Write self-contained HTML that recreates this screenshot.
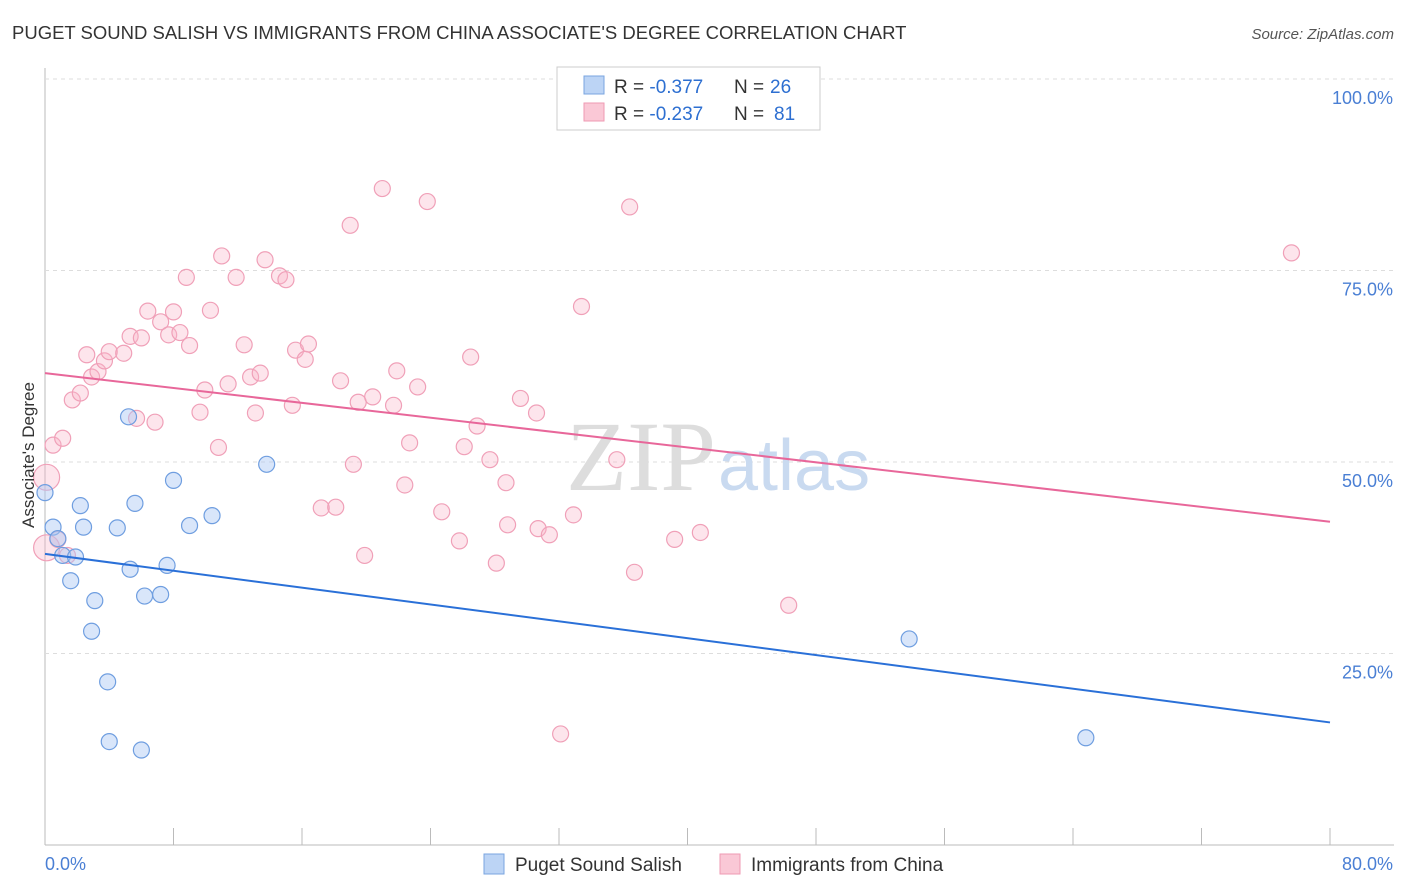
<!DOCTYPE html>
<html><head><meta charset="utf-8"><style>
body{margin:0;background:#fff;font-family:"Liberation Sans",sans-serif;}
svg{display:block}
</style></head><body>
<svg id="c" width="1406" height="892" viewBox="0 0 1406 892">
<text x="12" y="39" font-size="18.5" fill="#333">PUGET SOUND SALISH VS IMMIGRANTS FROM CHINA ASSOCIATE'S DEGREE CORRELATION CHART</text>
<text x="1394" y="39" font-size="15" fill="#555" font-style="italic" text-anchor="end">Source: ZipAtlas.com</text>
<g id="grid"></g>
<text x="716" y="490" font-size="100" font-family="Liberation Serif,serif" fill="#ddd" text-anchor="end">ZIP</text>
<text x="718" y="490" font-size="72" fill="#c9daf0">atlas</text>
<g id="marks"></g>
<text x="34" y="455" font-size="17" fill="#333" text-anchor="middle" transform="rotate(-90 34 455)">Associate's Degree</text>
<g>
<rect x="557" y="67" width="263" height="63" fill="#fff" stroke="#ccc"/>
<rect x="584" y="76" width="20" height="18" fill="#bcd4f5" stroke="#7aa5e0"/>
<rect x="584" y="103" width="20" height="18" fill="#fac8d6" stroke="#ef9ab3"/>
<text x="614" y="93" font-size="19" fill="#333">R = <tspan fill="#2d6fd1">-0.377</tspan></text>
<text x="734" y="93" font-size="19" fill="#333">N =</text>
<text x="770" y="93" font-size="19" fill="#2d6fd1">26</text>
<text x="614" y="120" font-size="19" fill="#333">R = <tspan fill="#2d6fd1">-0.237</tspan></text>
<text x="734" y="120" font-size="19" fill="#333">N =</text>
<text x="774" y="120" font-size="19" fill="#2d6fd1">81</text>
</g>
<g>
<rect x="484" y="854" width="20" height="20" fill="#bcd4f5" stroke="#7aa5e0"/>
<text x="515" y="871" font-size="19" fill="#333">Puget Sound Salish</text>
<rect x="720" y="854" width="20" height="20" fill="#fac8d6" stroke="#ef9ab3"/>
<text x="751" y="871" font-size="19" fill="#333">Immigrants from China</text>
</g>
</svg>
<script>
const xTicks=[0,10,20,30,40,50,60,70,80];
const yTicks=[25,50,75,100];
const blueX=[0,0.5,0.8,1.1,1.6,1.9,2.2,2.4,3.1,2.9,3.9,4.0,4.5,5.2,5.3,5.6,6.0,6.2,7.2,7.6,8.0,9.0,10.4,13.8,53.8,64.8];
const blueY=[46,41.5,40,37.8,34.5,37.6,44.3,41.5,31.9,27.9,21.3,13.5,41.4,55.9,36,44.6,12.4,32.5,32.7,36.5,47.6,41.7,43,49.7,26.9,14];
const pinkX=[0.1,0.1,0.5,0.8,1.1,1.4,1.7,2.2,2.6,2.9,3.3,3.7,4.0,4.9,5.3,5.7,6.0,6.4,6.85,7.2,7.7,8.0,8.4,8.8,9.0,9.65,9.95,10.3,10.8,11.0,11.4,11.9,12.4,12.8,13.1,13.4,13.7,14.6,15.0,15.4,15.6,16.2,16.4,17.2,18.1,18.4,19.0,19.2,19.5,19.9,20.4,21.0,21.7,21.9,22.4,22.7,23.2,23.8,24.7,25.8,26.1,26.5,26.9,27.7,28.1,28.7,28.8,29.6,30.6,30.7,31.4,32.1,32.9,33.4,35.6,36.4,36.7,39.2,40.8,46.3,77.6];
const pinkY=[48,38.8,52.2,39.9,53.1,37.8,58.1,59,64,61.1,61.8,63.2,64.4,64.2,66.4,55.7,66.2,69.7,55.2,68.3,66.6,69.6,66.9,74.1,65.2,56.5,59.4,69.8,51.9,76.9,60.2,74.1,65.3,61.1,56.4,61.6,76.4,74.3,73.8,57.4,64.6,63.4,65.4,44,44.1,60.6,80.9,49.7,57.8,37.8,58.5,85.7,57.4,61.9,47,52.5,59.8,84,43.5,39.7,52,63.7,54.7,50.3,36.8,47.3,41.8,58.3,56.4,41.3,40.5,14.5,43.1,70.3,50.3,83.3,35.6,39.9,40.8,31.3,77.3];
const trendBlue=[38.0,16.0];
const trendPink=[61.6,42.2];
const NS='http://www.w3.org/2000/svg';
const X0=45,X1=1330,Y0=845,Y100=79;
const sx=v=>X0+(v/80)*(X1-X0);
const sy=v=>Y0-(v/100)*(Y0-Y100);
function mk(t,a,p){const e=document.createElementNS(NS,t);for(const k in a)e.setAttribute(k,a[k]);p.appendChild(e);return e;}
const g=document.getElementById('grid'),m=document.getElementById('marks');
const ax=mk('line',{x1:X0,y1:Y0,x2:1394,y2:Y0,stroke:'#bbb'},g);


const ay=mk('line',{x1:X0,y1:68,x2:X0,y2:Y0,stroke:'#bbb'},g);


for(let i=0;i<=10;i++){const x=sx(i*8);const t=mk('line',{x1:x,y1:Y0,x2:x,y2:Y0-17,stroke:'#bbb'},g);

}
yTicks.forEach(v=>{const y=sy(v);const l=mk('line',{x1:X0,y1:y,x2:1394,y2:y,stroke:'#ddd','stroke-dasharray':'4,4'},g);


const t=mk('text',{x:1393,y:y+25,'font-size':18,fill:'#4a7fd4','text-anchor':'end'},g);t.textContent=v.toFixed(1)+'%';

});
[[0,'start',X0],[80,'end',1393]].forEach(([v,a,x])=>{const t=mk('text',{x:x,y:870,'font-size':18,fill:'#4a7fd4','text-anchor':a},g);t.textContent=v.toFixed(1)+'%';

});
pinkX.forEach((v,i)=>{const big=i<2;const c=mk('circle',{cx:sx(v),cy:sy(pinkY[i]),r:big?13:8,fill:'rgba(248,180,200,0.35)',stroke:'#f0a0b8','stroke-width':1.2},m);

});
blueX.forEach((v,i)=>{const c=mk('circle',{cx:sx(v),cy:sy(blueY[i]),r:8,fill:'rgba(170,200,245,0.45)',stroke:'#6f9ee0','stroke-width':1.2},m);

});
const lb=mk('line',{x1:sx(0),y1:sy(trendBlue[0]),x2:sx(80),y2:sy(trendBlue[1]),stroke:'#2a70d8','stroke-width':2},m);


const lp=mk('line',{x1:sx(0),y1:sy(trendPink[0]),x2:sx(80),y2:sy(trendPink[1]),stroke:'#e8679a','stroke-width':2},m);


</script>
</body></html>
